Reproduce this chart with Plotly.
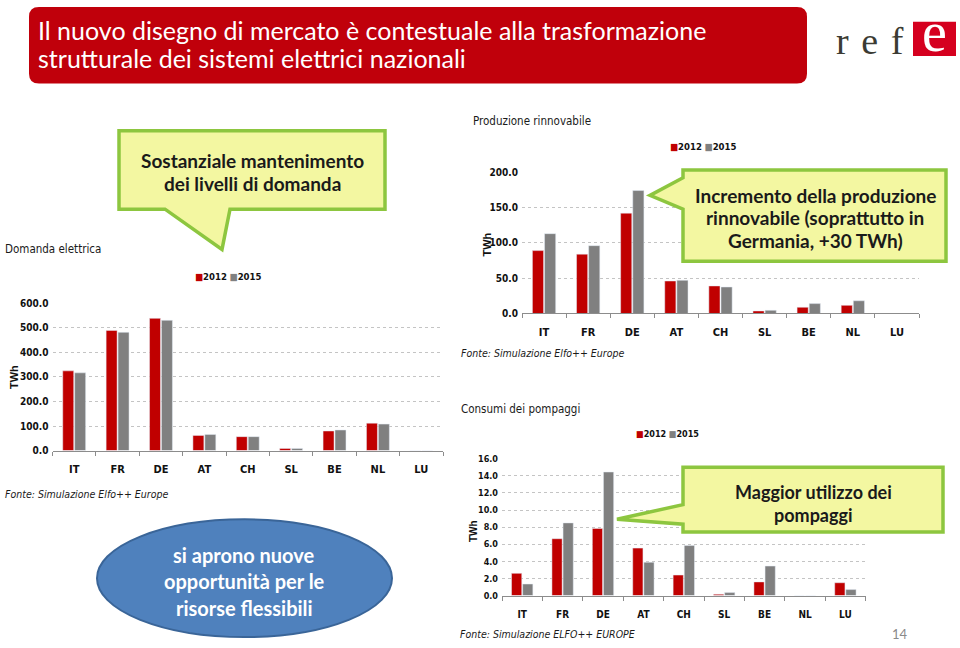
import plotly.graph_objects as go

# ---------------- data ----------------
countries = ["IT", "FR", "DE", "AT", "CH", "SL", "BE", "NL", "LU"]
years = ["2012", "2015"]

demand_2012 = [325, 490, 539, 62, 57, 9, 80, 112, 0]
demand_2015 = [317, 482, 531, 66, 57, 9, 84, 108, 0]

renew_2012 = [89, 84, 142, 46, 39, 3.6, 8.8, 11.5, 0]
renew_2015 = [113, 96, 174, 47, 37.5, 4.5, 14, 18, 0]

pump_2012 = [2.6, 6.65, 7.85, 5.55, 2.4, 0.15, 1.6, 0, 1.5]
pump_2015 = [1.35, 8.5, 14.45, 3.9, 5.85, 0.35, 3.45, 0, 0.7]

demand_ticks = [0, 100, 200, 300, 400, 500, 600]
renew_ticks = [0, 50, 100, 150, 200]
pump_ticks = [0, 2, 4, 6, 8, 10, 12, 14, 16]

# ---------------- styling ----------------
W, H = 960, 648
RED = "#C00000"
GRAY = "#808080"
NARROW = "DejaVu Sans Condensed, Liberation Sans Narrow, Liberation Sans, Arial"
CAL = "Lato, Open Sans, sans-serif"
SERIF = "Liberation Serif, DejaVu Serif, serif"


def X(px):
    return px / W


def Y(py):
    return 1 - py / H


def poly(points):
    return "M " + " L ".join(f"{X(a):.5f},{Y(b):.5f}" for a, b in points) + " Z"


def rounded_rect(x0, y0, x1, y1, r):
    return (f"M {X(x0 + r):.5f},{Y(y0):.5f} L {X(x1 - r):.5f},{Y(y0):.5f} "
            f"Q {X(x1):.5f},{Y(y0):.5f} {X(x1):.5f},{Y(y0 + r):.5f} "
            f"L {X(x1):.5f},{Y(y1 - r):.5f} "
            f"Q {X(x1):.5f},{Y(y1):.5f} {X(x1 - r):.5f},{Y(y1):.5f} "
            f"L {X(x0 + r):.5f},{Y(y1):.5f} "
            f"Q {X(x0):.5f},{Y(y1):.5f} {X(x0):.5f},{Y(y1 - r):.5f} "
            f"L {X(x0):.5f},{Y(y0 + r):.5f} "
            f"Q {X(x0):.5f},{Y(y0):.5f} {X(x0 + r):.5f},{Y(y0):.5f} Z")


fig = go.Figure()

series = [
    (demand_2012, demand_2015, "x", "y"),
    (renew_2012, renew_2015, "x2", "y2"),
    (pump_2012, pump_2015, "x3", "y3"),
]
for v12, v15, xa, ya in series:
    fig.add_trace(go.Bar(x=countries, y=v12, name=years[0], marker_color=RED,
                         xaxis=xa, yaxis=ya, showlegend=False))
    fig.add_trace(go.Bar(x=countries, y=v15, name=years[1], marker_color=GRAY,
                         xaxis=xa, yaxis=ya, showlegend=False))


def xaxis(domain, anchor, size, standoff):
    return dict(domain=domain, anchor=anchor, showline=True, linecolor="#8c8c8c",
                linewidth=1, ticks="outside", tickson="boundaries", ticklen=4,
                tickcolor="#8c8c8c", showgrid=False, fixedrange=True,
                ticklabelstandoff=standoff,
                tickfont=dict(family=NARROW, size=size, color="#111", weight="bold"))


def yaxis(domain, anchor, rng, ticks, size):
    return dict(domain=domain, anchor=anchor, range=rng, tickvals=ticks,
                tickformat=".1f", showline=False, zeroline=False, ticks="",
                showgrid=True, gridcolor="#c4c4c4", griddash="dot", gridwidth=1,
                fixedrange=True, ticklabelstandoff=3,
                tickfont=dict(family=NARROW, size=size, color="#111", weight="bold"))


fig.update_layout(
    width=W, height=H,
    margin=dict(l=0, r=0, t=0, b=0),
    paper_bgcolor="white", plot_bgcolor="white",
    barmode="group", bargap=0.45, bargroupgap=0.08,
    xaxis=xaxis([X(52.5), X(443)], "y", 11, 8),
    yaxis=yaxis([Y(453), Y(303)], "x", [0, 600], demand_ticks, 10),
    xaxis2=xaxis([X(522), X(919)], "y2", 11, 8),
    yaxis2=yaxis([Y(313.3), Y(169.3)], "x2", [0, 200], renew_ticks, 10),
    xaxis3=xaxis([X(502), X(865.6)], "y3", 10, 9),
    yaxis3=yaxis([Y(600.7), Y(461.3)], "x3", [0, 16], pump_ticks, 9),
)

shapes = []
# title box
shapes.append(dict(type="path", path=rounded_rect(29, 1, 807, 79, 10), xref="paper", yref="paper",
                   fillcolor="#C0000B", line=dict(width=0), layer="below"))
# logo red box
shapes.append(dict(type="rect", xref="paper", yref="paper", x0=X(913), x1=X(956), y0=Y(51), y1=Y(16),
                   fillcolor="#D5001F", line=dict(width=0), layer="below"))
# callouts
CALL_FILL = "#F3F7A1"
CALL_LINE = "#8DC63F"
callouts = [
    [(119, 127), (385, 127), (385, 207), (230, 207), (222, 248), (165, 207), (119, 207)],
    [(683, 167), (946, 167), (946, 260), (683, 260), (683, 207), (650, 193), (683, 175)],
    [(683, 470), (943, 470), (943, 536), (683, 536), (683, 528), (617, 523), (683, 508)],
]
for pts in callouts:
    shapes.append(dict(type="path", path=poly(pts), xref="paper", yref="paper",
                       fillcolor=CALL_FILL, line=dict(color=CALL_LINE, width=3.5), layer="above"))
# ellipse
shapes.append(dict(type="circle", xref="paper", yref="paper", x0=X(97), x1=X(392), y0=Y(643), y1=Y(523),
                   fillcolor="#4F81BD", line=dict(color="#3A6598", width=2), layer="above"))
fig.update_layout(shapes=shapes)

ann = []


def text(x, y, s, size, color="#1a1a1a", family=NARROW, xanchor="left", yanchor="middle", align="left",
         angle=0):
    ann.append(dict(x=X(x), y=Y(y), xref="paper", yref="paper", text=s, showarrow=False,
                    xanchor=xanchor, yanchor=yanchor, align=align, textangle=angle,
                    font=dict(size=size, color=color, family=family)))


def lines(x, ys, strs, size, color, family=CAL):
    for yy, s in zip(ys, strs):
        text(x, yy, f"<b>{s}</b>", size, color, family, xanchor="center", align="center")


# title
text(36, 24, "Il nuovo disegno di mercato è contestuale alla trasformazione", 25, "white", CAL)
text(36, 53, "strutturale dei sistemi elettrici nazionali", 25, "white", CAL)
# logo
text(870, 36, "r\u2004e\u2004f", 38, "#3b3b33", SERIF, xanchor="center")
text(934.5, 27, "e", 56, "white", SERIF, xanchor="center")

# section titles
text(3, 248, "Domanda elettrica", 11.5)
text(471, 117, "Produzione rinnovabile", 11.5)
text(459, 411, "Consumi dei pompaggi", 11.5)

# legends
leg = f"<span style='color:{RED}'>■</span><b>2012</b> <span style='color:{GRAY}'>■</span><b>2015</b>"
text(228, 276, leg, 9.5, "#111", NARROW, xanchor="center")
text(703, 143, leg, 9.5, "#111", NARROW, xanchor="center")
text(667, 436, leg, 9, "#111", NARROW, xanchor="center")

# axis titles
text(14, 378, "<b>TWh</b>", 11, "#111", "Liberation Sans, Arial", xanchor="center", angle=-90)
text(486, 243, "<b>TWh</b>", 11, "#111", "Liberation Sans, Arial", xanchor="center", angle=-90)
text(473, 535, "<b>TWh</b>", 10, "#111", "Liberation Sans, Arial", xanchor="center", angle=-90)

# sources
text(3, 497, "<i>Fonte: Simulazione Elfo++ Europe</i>", 10.5)
text(459, 354, "<i>Fonte: Simulazione Elfo++ Europe</i>", 10.5)
text(458, 640, "<i>Fonte: Simulazione ELFO++ EUROPE</i>", 10.5)
text(900, 640, "14", 13, "#8a8a8a", CAL, xanchor="center")

# callout texts
lines(252, [157, 181], ["Sostanziale mantenimento", "dei livelli di domanda"], 19, "#1a1a1a")
lines(815, [193, 216, 239], ["Incremento della produzione", "rinnovabile (soprattutto in",
                             "Germania, +30 TWh)"], 19, "#1a1a1a")
lines(813, [495, 519], ["Maggior utilizzo dei", "pompaggi"], 18, "#1a1a1a")
# ellipse text
lines(244, [559, 586, 613], ["si aprono nuove", "opportunità per le", "risorse flessibili"], 20, "white")

fig.update_layout(annotations=ann)

fig.write_html("out.html", config={"displayModeBar": False},
               post_script="document.body.style.margin='0';document.body.style.overflow='hidden';")
